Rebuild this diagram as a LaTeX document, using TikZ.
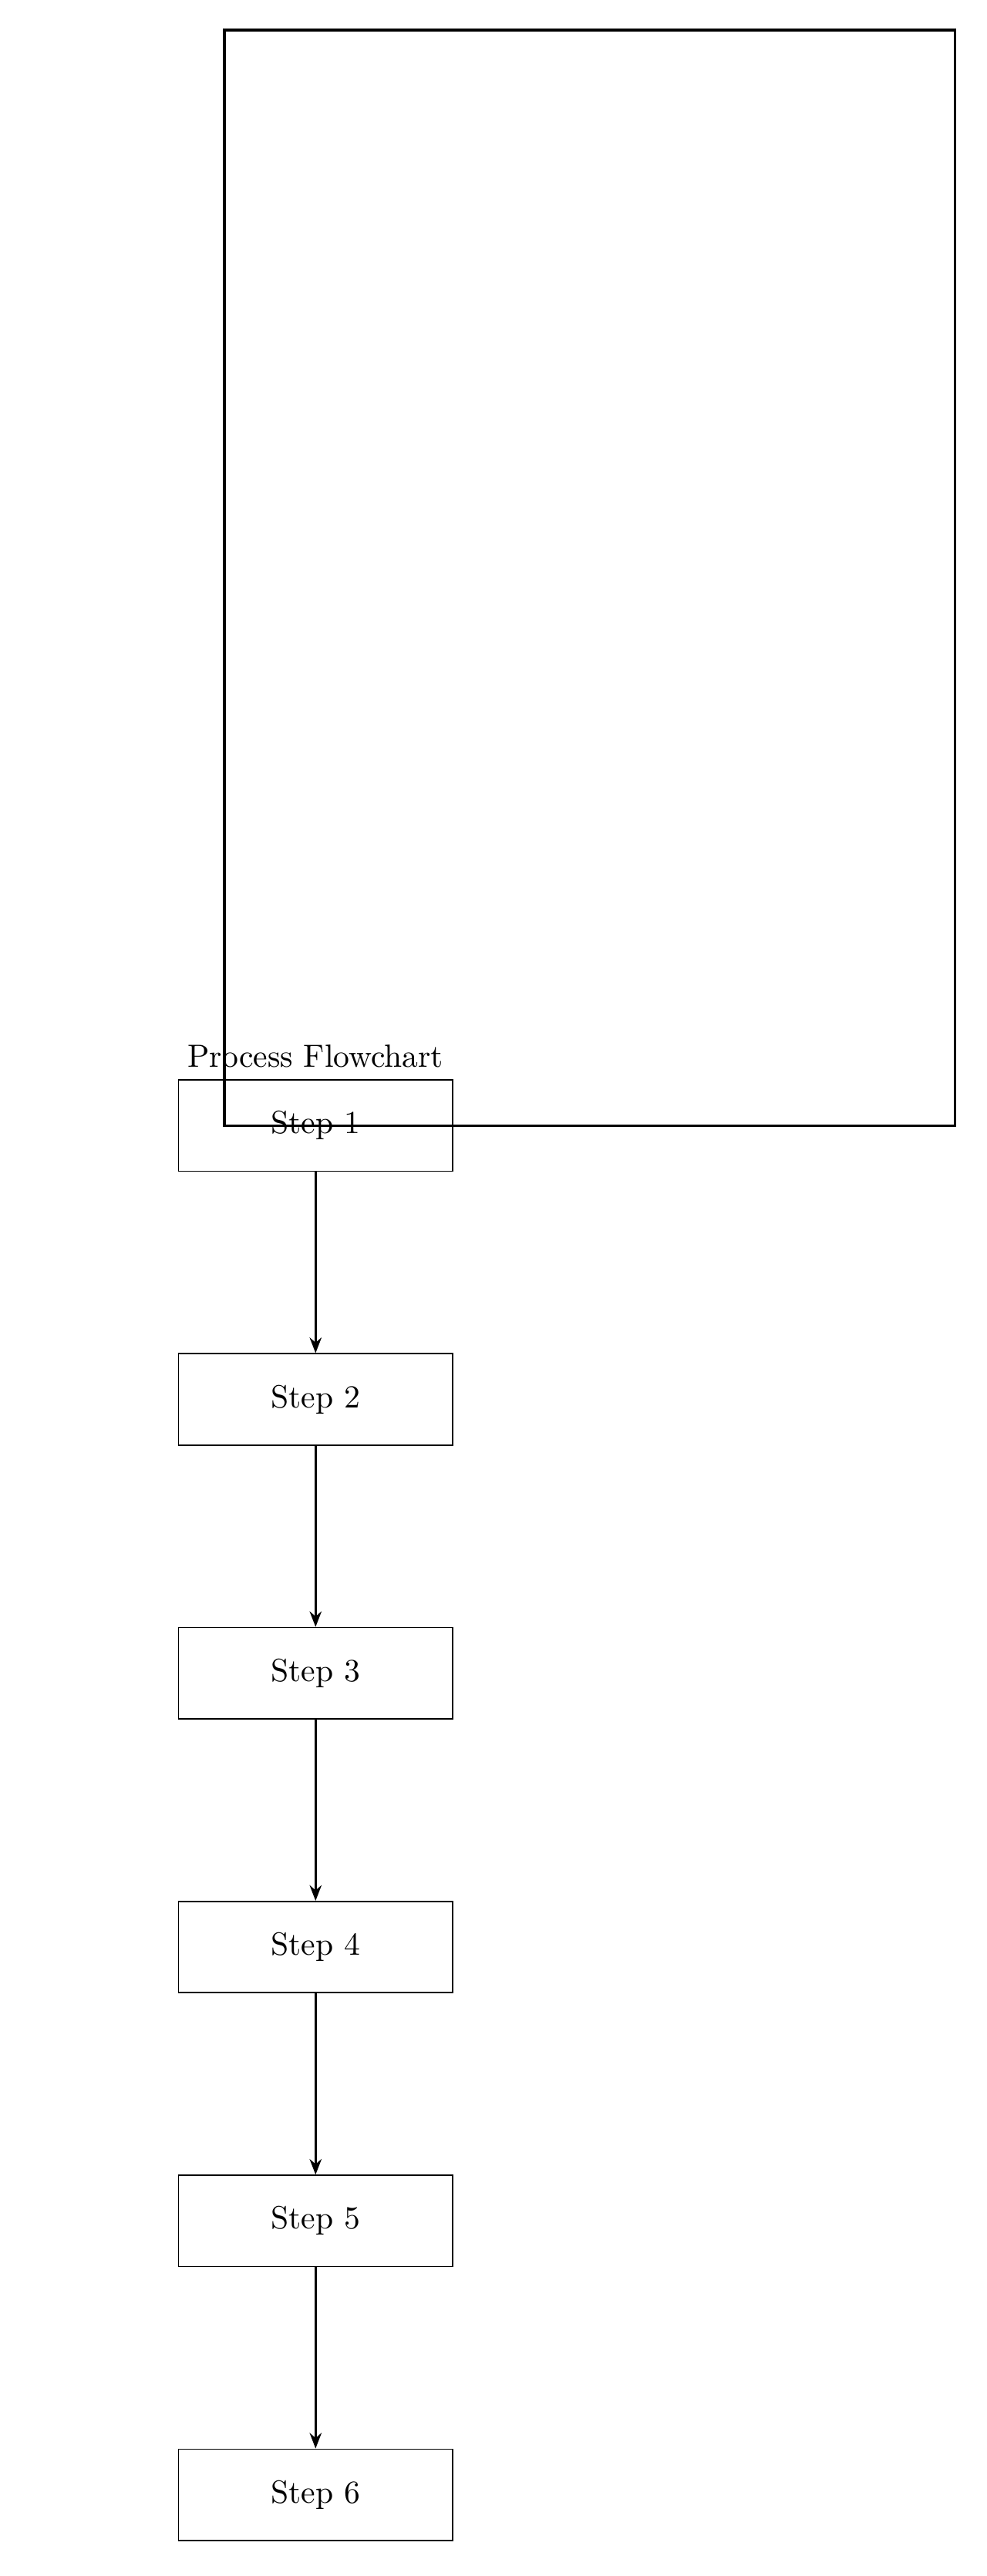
\documentclass[tikz,border=0pt]{standalone}
\usetikzlibrary{arrows.meta,positioning}

\begin{document}
\begin{tikzpicture}[
  stepbox/.style={draw,minimum width=3cm,minimum height=1cm,align=center},
  >={Stealth[length=1.7mm,width=1.3mm]}
]
\useasboundingbox (-3.456,-15.89) rectangle (7.346,12.33);
\draw[thick] (-1,0) rectangle (7,12);
\foreach \i in {1,...,6}{
  \node[stepbox] (s\i) at (0,{-3*(\i-1)}) {Step \i};
}
\node[above] (title) at (s1.north) {Process Flowchart};
\foreach \i/\j in {1/2,2/3,3/4,4/5,5/6}{
  \draw[->,thick] (s\i) -- (s\j);
}
\end{tikzpicture}
\end{document}
